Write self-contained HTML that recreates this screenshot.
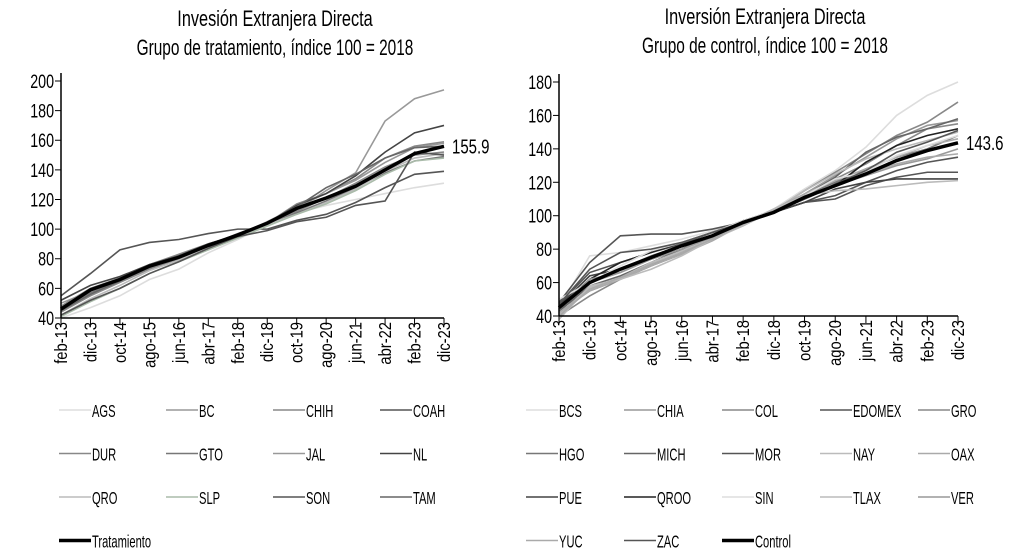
<!DOCTYPE html>
<html><head><meta charset="utf-8"><style>
html,body{margin:0;padding:0;background:#fff;}
svg{display:block;font-family:"Liberation Sans Narrow","Liberation Sans",sans-serif;}
</style></head><body>
<svg id="c" width="1012" height="553" viewBox="0 0 1012 553">
<text x="275" y="26" text-anchor="middle" font-size="22" transform="translate(275,0) scale(0.74,1) translate(-275,0)">Invesión Extranjera Directa</text>
<text x="275" y="55" text-anchor="middle" font-size="22" transform="translate(275,0) scale(0.7,1) translate(-275,0)">Grupo de tratamiento, índice 100 = 2018</text>
<text x="765" y="24" text-anchor="middle" font-size="22" transform="translate(765,0) scale(0.74,1) translate(-765,0)">Inversión Extranjera Directa</text>
<text x="765" y="53" text-anchor="middle" font-size="22" transform="translate(765,0) scale(0.7,1) translate(-765,0)">Grupo de control, índice 100 = 2018</text>
</svg>
<script>
const xLabels=["feb-13","dic-13","oct-14","ago-15","jun-16","abr-17","feb-18","dic-18","oct-19","ago-20","jun-21","abr-22","feb-23","dic-23"];
const yTicksL=[40,60,80,100,120,140,160,180,200];
const yTicksR=[40,60,80,100,120,140,160,180];
const treatNames=["AGS","BC","CHIH","COAH","DUR","GTO","JAL","NL","QRO","SLP","SON","TAM"];
const treatColors=["#ddd","#999","#888","#555","#888","#777","#999","#444","#bbb","#aba","#555","#666"];
const treatValues=[
[40,47,55,66,73,84,93,103,111,116,120,124,128,131],
[50,58,65,74,80,88,95,103,113,126,138,173,188,194],
[48,60,67,76,83,90,96,104,117,124,134,148,156,159],
[55,70,86,91,93,97,100,100,106,110,118,128,137,139],
[44,55,64,73,80,88,96,104,112,121,131,142,150,152],
[46,57,65,74,81,89,96,103,111,119,128,138,146,149],
[47,58,66,76,82,90,96,105,115,124,133,145,155,158],
[52,62,68,76,82,90,96,104,116,124,136,152,165,170],
[42,53,62,72,79,88,95,103,110,118,127,139,148,151],
[41,51,60,70,78,86,94,102,110,117,126,137,146,148],
[42,52,60,70,78,87,95,99,105,108,116,119,152,150],
[45,56,65,75,82,89,97,104,115,128,137,148,155,156]];
const treatMean=[46,59,66,75,81,89,96,104,114,121,129,140,151,155.9];
const ctrlNames=["BCS","CHIA","COL","EDOMEX","GRO","HGO","MICH","MOR","NAY","OAX","PUE","QROO","SIN","TLAX","VER","YUC","ZAC"];
const ctrlColors=["#ddd","#999","#888","#555","#888","#777","#666","#555","#bbb","#aaa","#444","#222","#ddd","#bbb","#999","#aaa","#555"];
const ctrlValues=[
[45,76,78,82,86,91,96,104,116,127,141,160,172,180],
[42,60,66,74,80,88,96,103,113,124,135,146,154,157],
[44,55,62,70,78,86,95,103,112,122,131,142,152,155],
[48,72,88,89,89,92,96,102,108,110,118,123,126,126],
[40,52,62,70,77,86,95,103,115,126,137,148,156,168],
[45,60,68,76,82,88,96,103,112,120,128,135,140,148],
[43,58,64,72,80,88,97,103,112,123,138,147,152,158],
[47,66,72,78,83,90,96,102,108,112,120,127,132,135],
[41,57,63,72,79,86,94,103,115,125,134,140,145,150],
[42,55,62,70,77,85,95,104,113,121,128,135,142,146],
[46,64,68,74,80,88,96,102,108,116,120,122,122,122],
[45,62,72,78,84,90,97,102,110,118,132,142,148,152],
[50,60,70,79,84,90,97,103,112,122,126,136,142,148],
[38,58,62,68,76,86,94,104,112,115,116,118,120,121],
[44,62,66,74,80,87,96,103,111,118,124,130,134,140],
[40,56,63,71,78,86,95,103,111,118,125,131,135,137],
[47,68,78,80,84,90,96,102,110,119,127,138,144,151]];
const ctrlMean=[45,60,68,75,82,88,96,102,111,118,125,133,139,143.6];

const NS="http://www.w3.org/2000/svg";
const svg=document.getElementById('c');
function mk(tag,attrs,parent){const e=document.createElementNS(NS,tag);for(const k in attrs)e.setAttribute(k,attrs[k]);(parent||svg).appendChild(e);return e;}
function cond(t,x,s){t.setAttribute('transform',`translate(${x},0) scale(${s||0.72},1) translate(${-x},0)`);}

function drawPanel(p){
  const g=mk('g',{});
  
  
  const xs=i=>p.x0+(p.x1-p.x0)*i/(xLabels.length-1);
  const ys=v=>p.yb-(v-p.ymin)*(p.yb-p.yt)/(p.ymax-p.ymin);
  p.values.forEach((vals,k)=>{
    const pl=mk('polyline',{points:vals.map((v,i)=>xs(i)+','+ys(v)).join(' '),fill:'none',stroke:p.colors[k],'stroke-width':1.6},g);
    
    
  });
  const m=mk('polyline',{points:p.mean.map((v,i)=>xs(i)+','+ys(v)).join(' '),fill:'none',stroke:'#000','stroke-width':3.5},g);
  
  
  const last=p.mean[p.mean.length-1];
  const lt=mk('text',{x:p.x1+8,y:ys(last)+7,'font-size':20},g);
  lt.textContent=last.toFixed(1);
  cond(lt,p.x1+8,0.75);
  
  
  mk('line',{x1:p.x0,y1:p.yt-8,x2:p.x0,y2:p.yb,stroke:'#000','stroke-width':1.5},g);
  mk('line',{x1:p.x0,y1:p.yb,x2:p.x1,y2:p.yb,stroke:'#000','stroke-width':1.5},g);
  p.yticks.forEach(v=>{
    mk('line',{x1:p.x0-6,y1:ys(v),x2:p.x0,y2:ys(v),stroke:'#000'},g);
    const t=mk('text',{x:p.x0-7,y:ys(v)+7,'font-size':19,'text-anchor':'end'},g);
    t.textContent=v; cond(t,p.x0-7,0.75);
    
    
  });
  xLabels.forEach((l,i)=>{
    mk('line',{x1:xs(i),y1:p.yb,x2:xs(i),y2:p.yb+7,stroke:'#000'},g);
    const t=mk('text',{x:0,y:0,'font-size':18,'text-anchor':'end',transform:`translate(${xs(i)+6},${p.yb+4}) rotate(-90) scale(0.82,1)`},g);
    t.textContent=l;
    
    
  });
  const items=p.names.map((n,k)=>[n,p.colors[k],1.6]).concat([[p.meanName,'#000',3.5]]);
  items.forEach((it,k)=>{
    const c=k%p.cols, r=Math.floor(k/p.cols);
    const lx=p.lx+c*p.lsp, ly=410+r*43.5;
    const lg=mk('g',{},g);
    
    
    mk('line',{x1:lx,y1:ly,x2:lx+32,y2:ly,stroke:it[1],'stroke-width':it[2]},lg);
    const t=mk('text',{x:lx+33,y:ly+7,'font-size':18},lg);
    t.textContent=it[0]; cond(t,lx+33,0.62);
  });
}
drawPanel({name:'left',x0:61,x1:444,yt:81,yb:318,ymin:40,ymax:200,yticks:yTicksL,values:treatValues,colors:treatColors,names:treatNames,mean:treatMean,meanName:'Tratamiento',lx:59,lsp:107,cols:4});
drawPanel({name:'right',x0:559,x1:958,yt:82,yb:316,ymin:40,ymax:180,yticks:yTicksR,values:ctrlValues,colors:ctrlColors,names:ctrlNames,mean:ctrlMean,meanName:'Control',lx:526,lsp:98,cols:5});
</script>
</body></html>
